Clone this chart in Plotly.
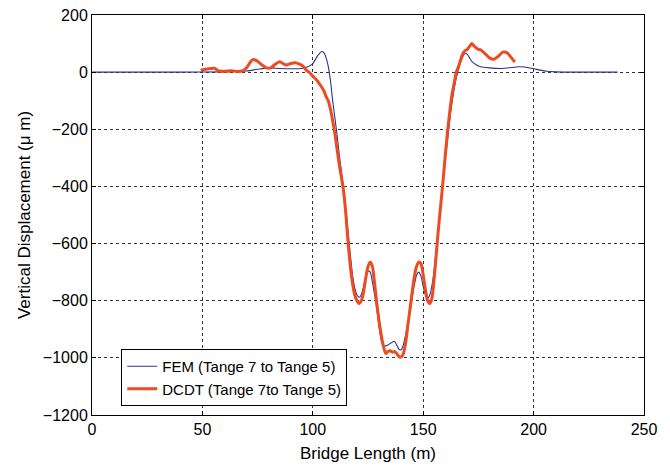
import plotly.graph_objects as go

fem_x = [0, 20, 40, 60, 70, 75, 80, 85, 90, 95, 98, 100, 102, 104, 105, 106, 107, 108, 109, 110,
         111, 112, 113, 114, 115, 116, 117, 118, 119, 120, 121, 122, 123, 124, 125, 126, 127, 128,
         129, 130, 131, 132, 133, 134, 135, 136, 137, 138, 139, 140, 141, 142, 143, 144, 145, 146,
         147, 148, 149, 150, 151, 152, 153, 154, 155, 156, 157, 158, 159, 160, 161, 162, 163, 164,
         165, 166, 167, 168, 169, 170, 171, 172, 174, 176, 180, 185, 190, 193, 196, 200, 203, 206,
         210, 220, 238]
fem_y = [0, 0, 0, 1, 4, 10, 15, 13, 12, 13, 20, 30, 55, 72, 68, 50, 20, -30, -100, -160,
         -220, -290, -350, -410, -480, -560, -640, -710, -755, -780, -788, -778, -750, -715, -697, -700, -735, -780,
         -830, -890, -940, -960, -958, -955, -950, -945, -942, -955, -970, -972, -955, -920, -880, -840, -790, -745,
         -710, -700, -715, -750, -780, -792, -780, -745, -690, -610, -540, -470, -390, -310, -240, -170, -110, -60,
         -20, 10, 35, 55, 66, 62, 50, 38, 26, 19, 15, 13, 16, 19, 18, 12, 7, 3,
         1, 0, 0]

dcdt_x = [49.2, 55.7, 57, 60, 63, 66, 68.5, 70, 72, 73, 75, 77, 79, 81, 83, 85, 87, 88, 90, 92,
          94, 96, 97, 98.3, 100, 102, 104, 105, 106, 107, 108, 109, 110, 111, 112, 113, 114, 115,
          116, 117, 118, 119, 120, 121, 122, 123, 124, 125, 126, 127, 128, 129, 130, 131, 132, 133,
          134, 135, 136, 137, 138, 139, 140, 141, 142, 143, 144, 145, 146, 147, 148, 149, 150, 151,
          152, 153, 154, 155, 156, 157, 158, 159, 160, 161, 162, 163, 164, 165, 166, 167, 168, 169,
          170, 171, 172, 173, 174, 175, 176, 178, 180, 182, 184, 186, 188, 190, 191.5]
dcdt_y = [7, 13, 5, 3, 5, 2, 5, 15, 38, 44, 38, 25, 15, 15, 28, 36, 28, 25, 30, 33,
          28, 18, 7, 0, -14, -30, -52, -65, -85, -100, -130, -170, -215, -270, -325, -370, -420, -500,
          -600, -680, -740, -780, -800, -810, -800, -770, -720, -680, -665, -680, -740, -810, -870, -920, -960, -985,
          -978, -975, -980, -978, -985, -995, -997, -985, -950, -890, -830, -770, -715, -680, -665, -670, -710, -760,
          -800, -810, -790, -720, -630, -540, -460, -380, -290, -210, -140, -80, -40, 0, 20, 45, 65, 75,
          80, 90, 100, 92, 85, 80, 78, 65, 50, 45, 55, 70, 68, 50, 35]

x_ticks = [0, 50, 100, 150, 200, 250]
y_ticks = [-1200, -1000, -800, -600, -400, -200, 0, 200]

fig = go.Figure()
fig.add_trace(go.Scatter(x=fem_x, y=fem_y, mode="lines", name="FEM (Tange 7 to Tange 5)",
                         line=dict(color="#2E3192", width=1.1, shape="spline", smoothing=0.6)))
fig.add_trace(go.Scatter(x=dcdt_x, y=dcdt_y, mode="lines", name="DCDT (Tange 7to Tange 5)",
                         line=dict(color="#EE4B22", width=3, shape="spline", smoothing=0.6)))

axis_common = dict(showline=True, linecolor="black", linewidth=1, mirror="ticks",
                   ticks="inside", ticklen=4, tickcolor="black",
                   showgrid=True, gridcolor="#333333", griddash="dot", gridwidth=1,
                   zeroline=False, tickfont=dict(size=16, color="black"), automargin=False)

fig.update_xaxes(range=[0, 250], tickvals=x_ticks, **axis_common,
                 title=dict(text="Bridge Length (m)", font=dict(size=17, color="black"), standoff=9))
fig.update_yaxes(range=[-1200, 200], tickvals=y_ticks, **axis_common,
                 title=dict(text="Vertical Displacement (μ m)", font=dict(size=17, color="black"), standoff=7))

fig.update_layout(
    width=670, height=465,
    margin=dict(l=92, r=26, t=15, b=50),
    plot_bgcolor="white", paper_bgcolor="white",
    font=dict(family="Liberation Sans, Arial, sans-serif", color="black"),
    legend=dict(x=0.053, y=0.165, xanchor="left", yanchor="top",
                bgcolor="white", bordercolor="black", borderwidth=1,
                font=dict(size=15, color="black"), tracegroupgap=0,
                itemwidth=30),
    showlegend=True,
)

fig.write_html("out.html", config={"displayModeBar": False},
               post_script="document.body.style.margin='0';document.body.style.overflow='hidden';")
